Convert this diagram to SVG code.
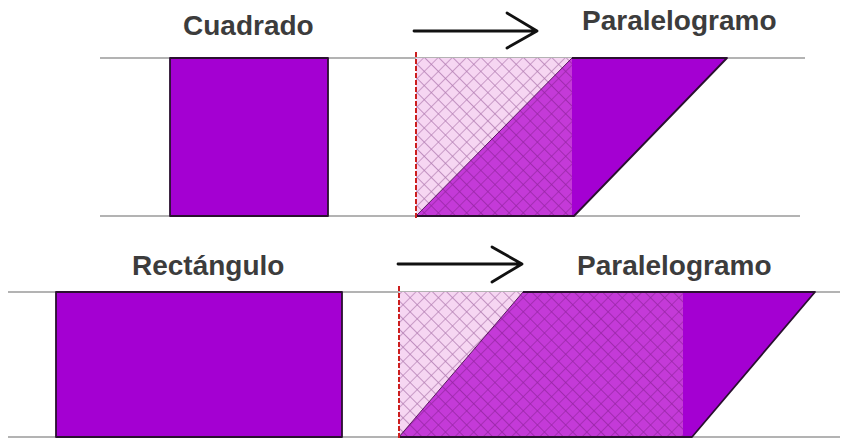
<svg xmlns="http://www.w3.org/2000/svg" width="844" height="438" viewBox="0 0 844 438">
<style>
.lbl{font-family:"Liberation Sans",Arial,sans-serif;font-weight:bold;font-size:28px;fill:#3c3c3c}
.guide{stroke:#9a9a9a;stroke-width:1.5;fill:none}
.solid{fill:#a400d2}
.light{fill:#f6d6f2}
.mid{fill:#c43ad8}
.hatch{fill:url(#xh)}
.edge{stroke:#2a1030;stroke-width:1.8;fill:none;stroke-linejoin:round}
.thin{stroke:#5a1a60;stroke-width:1;fill:none}
.red{stroke:#cc1e1e;stroke-width:2;stroke-dasharray:5 2;fill:none}
.arrow{stroke:#111;stroke-width:2.8;fill:none;stroke-linecap:round;stroke-linejoin:round}
</style>
<defs>
<pattern id="xh" patternUnits="userSpaceOnUse" width="10" height="10" patternTransform="rotate(45)">
<path d="M0 0H10M0 0V10" stroke="#5a0a60" stroke-opacity="0.45" stroke-width="1.3"/>
</pattern>
</defs>
<rect width="844" height="438" fill="#fff"/>

<g id="guides">
<line class="guide" x1="100" y1="58" x2="805" y2="58"/>
<line class="guide" x1="100" y1="216" x2="800" y2="216"/>
<line class="guide" x1="8" y1="292" x2="840" y2="292"/>
<line class="guide" x1="8" y1="437" x2="840" y2="437"/>
</g>

<g id="label-cuadrado"><text class="lbl" x="183" y="35">Cuadrado</text></g>
<g id="label-paralelogramo-1"><text class="lbl" x="582" y="30">Paralelogramo</text></g>
<g id="label-rectangulo"><text class="lbl" x="132" y="275">Rectángulo</text></g>
<g id="label-paralelogramo-2"><text class="lbl" x="577" y="275">Paralelogramo</text></g>

<g id="square">
<rect class="solid" x="170" y="58" width="158" height="158"/>
<rect class="edge" x="170" y="58" width="158" height="158"/>
</g>

<g id="parallelogram-1">
<polygon class="light" points="416,58 572,58 416,216"/>
<polygon class="mid" points="416,216 572,58 572,216"/>
<polygon class="hatch" points="416,58 572,58 572,216 416,216"/>
<polygon class="solid" points="572,58 727,58 574,216 572,216"/>
<polyline class="edge" points="572,58 727,58 574,216 416,216"/>
<line class="thin" x1="416" y1="216" x2="572" y2="58"/>
<line class="red" x1="416" y1="52" x2="416" y2="219"/>
</g>

<g id="rectangle">
<rect class="solid" x="56" y="292" width="286" height="145"/>
<rect class="edge" x="56" y="292" width="286" height="145"/>
</g>

<g id="parallelogram-2">
<polygon class="light" points="399,292 523,292 399,437"/>
<polygon class="mid" points="399,437 523,292 683,292 683,437"/>
<polygon class="hatch" points="399,292 683,292 683,437 399,437"/>
<polygon class="solid" points="683,292 815,292 692,437 683,437"/>
<polyline class="edge" points="523,292 815,292 692,437 399,437"/>
<line class="thin" x1="399" y1="437" x2="523" y2="292"/>
<line class="red" x1="399" y1="286" x2="399" y2="438"/>
</g>

<g id="connectors">
<path class="arrow" d="M414 31H536M507 13L537 31L507 48"/>
<path class="arrow" d="M398 264H521M492 247L522 264L492 282"/>
</g>
</svg>
